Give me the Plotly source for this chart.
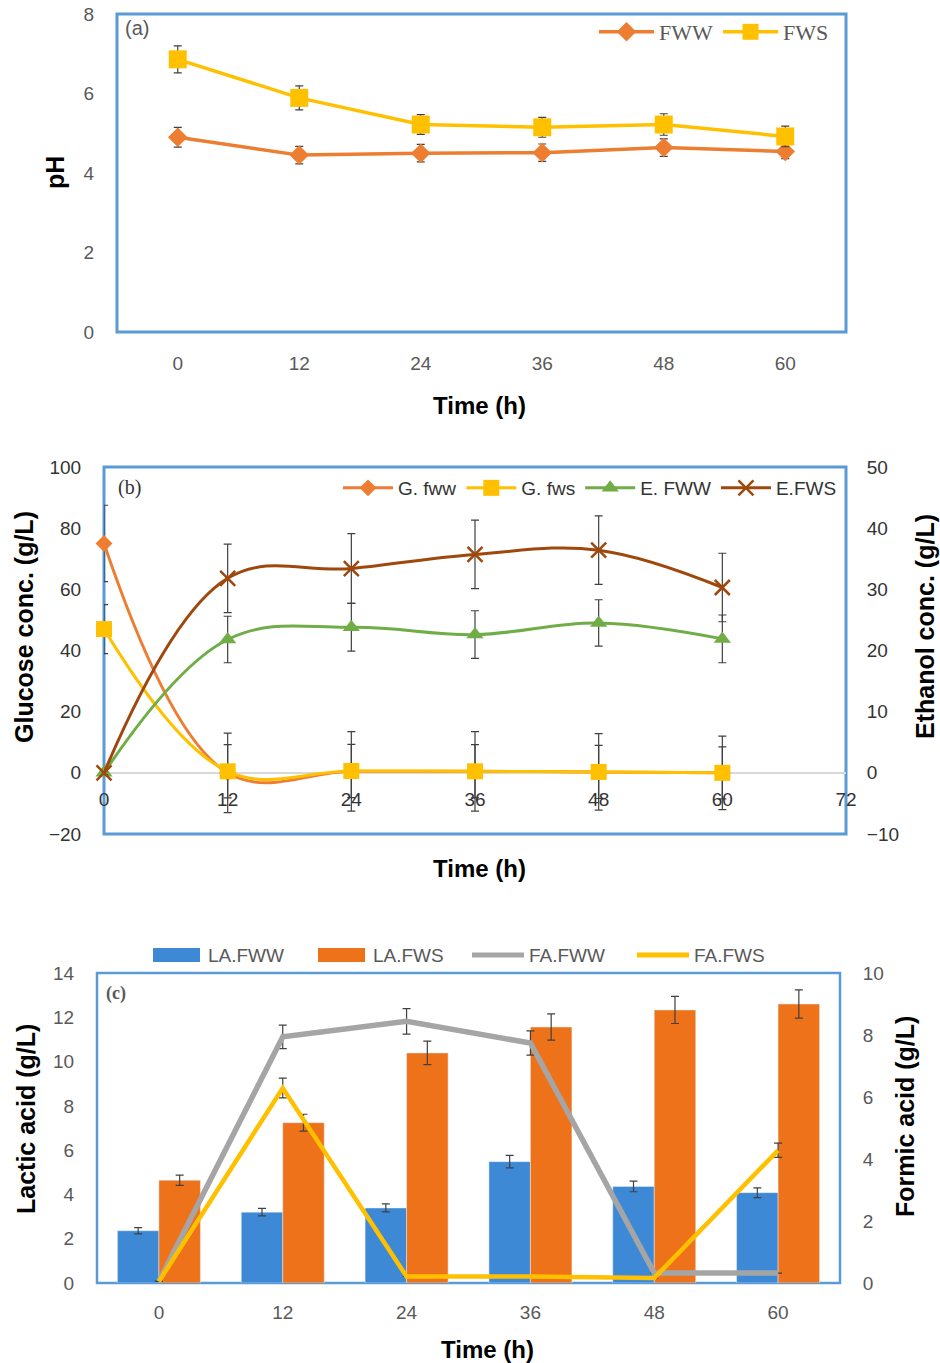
import plotly.graph_objects as go

# ---------------- data ----------------
time_cat = ["0", "12", "24", "36", "48", "60"]
time_h = [0, 12, 24, 36, 48, 60]

# panel (a) pH
ph_fww = [4.90, 4.45, 4.50, 4.51, 4.64, 4.54]
ph_fww_err = [0.25, 0.22, 0.22, 0.22, 0.22, 0.18]
ph_fws = [6.86, 5.89, 5.22, 5.15, 5.22, 4.92]
ph_fws_err = [0.34, 0.30, 0.25, 0.25, 0.27, 0.26]

# panel (b) glucose (left) and ethanol (right)
g_fww = [75.0, 0.0, 0.5, 0.5, 0.3, 0.0]
g_fww_err = [12.5, 13.0, 13.0, 13.0, 12.5, 12.0]
g_fws = [47.0, 0.5, 0.6, 0.5, 0.3, 0.0]
g_fws_err = [8.0, 8.7, 8.7, 8.7, 8.7, 8.5]
e_fww = [0.0, 21.8, 23.8, 22.6, 24.5, 21.9]
e_fww_err = [0.3, 3.8, 3.9, 3.9, 3.8, 3.9]
e_fws = [0.0, 31.8, 33.4, 35.7, 36.4, 30.3]
e_fws_err = [0.3, 5.6, 5.7, 5.6, 5.6, 5.6]

# panel (c) lactic acid (bars, left) and formic acid (lines, right)
la_fww = [2.36, 3.20, 3.39, 5.48, 4.36, 4.08]
la_fww_err = [0.14, 0.17, 0.18, 0.28, 0.24, 0.22]
la_fws = [4.64, 7.24, 10.39, 11.56, 12.33, 12.60]
la_fws_err = [0.23, 0.38, 0.53, 0.59, 0.61, 0.64]
fa_fww = [0.05, 7.94, 8.44, 7.74, 0.32, 0.32]
fa_fww_err = [0.0, 0.38, 0.41, 0.39, 0.0, 0.0]
fa_fws = [0.05, 6.29, 0.21, 0.21, 0.16, 4.28]
fa_fws_err = [0.0, 0.32, 0.0, 0.0, 0.0, 0.23]

# ---------------- style ----------------
W, H = 940, 1363
ORANGE = "#ED7D31"
YELLOW = "#FFC000"
GREEN = "#70AD47"
BROWN = "#9E480E"
GRAY = "#A5A5A5"
BLUE_BAR = "#3D89D6"
ORANGE_BAR = "#EE7219"
FRAME = "#5B9BD5"
TICKC = "#595959"
NARROW = "Liberation Sans Narrow, Arial Narrow, Liberation Sans, Arial"
BOLD = "Liberation Sans, Arial"
SMOOTH = 1.1


def px_x(p):
    return p / W


def px_y(p):
    return 1 - p / H


def eb(arr, color="#404040"):
    return dict(type="data", array=arr, visible=True, color=color, thickness=1.2, width=4)


fig = go.Figure()

# ---- panel (a)
fig.add_trace(go.Scatter(x=time_cat, y=ph_fww, name="FWW", mode="lines+markers",
                         line=dict(color=ORANGE, width=3.5),
                         marker=dict(symbol="diamond", size=15, color=ORANGE),
                         error_y=eb(ph_fww_err), xaxis="x", yaxis="y", legend="legend"))
fig.add_trace(go.Scatter(x=time_cat, y=ph_fws, name="FWS", mode="lines+markers",
                         line=dict(color=YELLOW, width=3.5),
                         marker=dict(symbol="square", size=18, color=YELLOW),
                         error_y=eb(ph_fws_err), xaxis="x", yaxis="y", legend="legend"))

# ---- panel (b)
fig.add_trace(go.Scatter(x=time_h, y=g_fww, name="G. fww", mode="lines+markers",
                         line=dict(color=ORANGE, width=3, shape="spline", smoothing=SMOOTH),
                         marker=dict(symbol="diamond", size=13, color=ORANGE),
                         error_y=eb(g_fww_err), cliponaxis=False,
                         xaxis="x2", yaxis="y2", legend="legend2"))
fig.add_trace(go.Scatter(x=time_h, y=g_fws, name="G. fws", mode="lines+markers",
                         line=dict(color=YELLOW, width=3, shape="spline", smoothing=SMOOTH),
                         marker=dict(symbol="square", size=16, color=YELLOW),
                         error_y=eb(g_fws_err), cliponaxis=False,
                         xaxis="x2", yaxis="y2", legend="legend2"))
fig.add_trace(go.Scatter(x=time_h, y=e_fww, name="E. FWW", mode="lines+markers",
                         line=dict(color=GREEN, width=3, shape="spline", smoothing=SMOOTH),
                         marker=dict(symbol="triangle-up", size=15, color=GREEN),
                         error_y=eb(e_fww_err), cliponaxis=False,
                         xaxis="x2", yaxis="y3", legend="legend2"))
fig.add_trace(go.Scatter(x=time_h, y=e_fws, name="E.FWS", mode="lines+markers",
                         line=dict(color=BROWN, width=3, shape="spline", smoothing=SMOOTH),
                         marker=dict(symbol="x-thin-open", size=15, color=BROWN,
                                     line=dict(color=BROWN, width=2.5)),
                         error_y=eb(e_fws_err), cliponaxis=False,
                         xaxis="x2", yaxis="y3", legend="legend2"))

# ---- panel (c)
fig.add_trace(go.Bar(x=time_cat, y=la_fww, name="LA.FWW", marker=dict(color=BLUE_BAR),
                     error_y=eb(la_fww_err), xaxis="x3", yaxis="y4", showlegend=False,
                     offsetgroup="a"))
fig.add_trace(go.Bar(x=time_cat, y=la_fws, name="LA.FWS", marker=dict(color=ORANGE_BAR),
                     error_y=eb(la_fws_err), xaxis="x3", yaxis="y4", showlegend=False,
                     offsetgroup="b"))
fig.add_trace(go.Scatter(x=time_cat, y=fa_fww, name="FA.FWW", mode="lines",
                         line=dict(color=GRAY, width=5.5), showlegend=False,
                         error_y=eb(fa_fww_err), xaxis="x3", yaxis="y5"))
fig.add_trace(go.Scatter(x=time_cat, y=fa_fws, name="FA.FWS", mode="lines",
                         line=dict(color=YELLOW, width=4.5), showlegend=False,
                         error_y=eb(fa_fws_err), xaxis="x3", yaxis="y5"))

tickfont = dict(family=NARROW, size=19, color=TICKC)
hidden_ticks = dict(ticks="outside", tickcolor="rgba(0,0,0,0)", showgrid=False,
                    zeroline=False, showline=False, automargin=False)

dom_a_x = [px_x(117), px_x(846)]
dom_a_y = [px_y(332), px_y(14)]
dom_b_x = [px_x(104), px_x(846)]
dom_b_y = [px_y(834), px_y(467)]
dom_c_x = [px_x(97), px_x(840)]
dom_c_y = [px_y(1283), px_y(973)]

fig.update_layout(
    width=W, height=H, margin=dict(l=0, r=0, t=0, b=0, pad=0), autosize=False,
    paper_bgcolor="white", plot_bgcolor="rgba(0,0,0,0)",
    barmode="group", bargap=0.33, bargroupgap=0.0,
    xaxis=dict(domain=dom_a_x, anchor="y", type="category", range=[-0.5, 5.5],
               tickfont=tickfont, ticklen=14, **hidden_ticks),
    yaxis=dict(domain=dom_a_y, anchor="x", range=[0, 8], dtick=2,
               tickfont=tickfont, ticklen=18, **hidden_ticks),
    xaxis2=dict(domain=dom_b_x, anchor="free", position=px_y(772), range=[0, 72],
                tickvals=[0, 12, 24, 36, 48, 60, 72], tickfont=dict(family=NARROW, size=19, color="#333333"),
                ticklen=10, **hidden_ticks),
    yaxis2=dict(domain=dom_b_y, anchor="x2", range=[-20, 100], dtick=20,
                tickfont=dict(family=NARROW, size=19, color="#333333"), ticklen=18,
                ticks="outside", tickcolor="rgba(0,0,0,0)", showgrid=False, showline=False,
                automargin=False,
                zeroline=True, zerolinecolor="#D9D9D9", zerolinewidth=2),
    yaxis3=dict(overlaying="y2", side="right", anchor="x2", range=[-10, 50], dtick=10,
                tickfont=dict(family=NARROW, size=19, color="#333333"), ticklen=16,
                **hidden_ticks),
    xaxis3=dict(domain=dom_c_x, anchor="y4", type="category", range=[-0.5, 5.5],
                tickfont=tickfont, ticklen=12, **hidden_ticks),
    yaxis4=dict(domain=dom_c_y, anchor="x3", range=[0, 14], dtick=2,
                tickfont=tickfont, ticklen=18, **hidden_ticks),
    yaxis5=dict(overlaying="y4", side="right", anchor="x3", range=[0, 10], dtick=2,
                tickfont=tickfont, ticklen=18, **hidden_ticks),
    legend=dict(orientation="h", x=px_x(834), xanchor="right", y=px_y(32), yanchor="middle",
                font=dict(family="Liberation Serif, Times New Roman, serif", size=22, color=TICKC),
                itemwidth=55, bgcolor="rgba(0,0,0,0)", tracegroupgap=0),
    legend2=dict(orientation="h", x=px_x(842), xanchor="right", y=px_y(488), yanchor="middle",
                 font=dict(family=NARROW, size=19, color="#333333"),
                 itemwidth=50, bgcolor="rgba(0,0,0,0)"),
)

# frames
shapes = []
for (dx, dy, w) in [(dom_a_x, dom_a_y, 3), (dom_b_x, dom_b_y, 3), (dom_c_x, dom_c_y, 2.5)]:
    shapes.append(dict(type="rect", xref="paper", yref="paper", x0=dx[0], x1=dx[1],
                       y0=dy[0], y1=dy[1], line=dict(color=FRAME, width=w), layer="below"))

# legend for panel (c), drawn above the plot area
leg_c_items = [("LA.FWW", BLUE_BAR, "bar", 153), ("LA.FWS", ORANGE_BAR, "bar", 318),
               ("FA.FWW", GRAY, "line", 472), ("FA.FWS", YELLOW, "line", 637)]
ann = []
for name, col, kind, x0 in leg_c_items:
    if kind == "bar":
        shapes.append(dict(type="rect", xref="paper", yref="paper",
                           x0=px_x(x0), x1=px_x(x0 + 47), y0=px_y(962), y1=px_y(948),
                           fillcolor=col, line=dict(width=0)))
    else:
        shapes.append(dict(type="line", xref="paper", yref="paper",
                           x0=px_x(x0), x1=px_x(x0 + 52), y0=px_y(955), y1=px_y(955),
                           line=dict(color=col, width=5)))
    ann.append(dict(text=name, x=px_x(x0 + (53 if kind == "bar" else 55)), y=px_y(955),
                    xanchor="left", font=dict(family=NARROW, size=19, color=TICKC)))
fig.update_layout(shapes=shapes)

title_font = dict(family=BOLD, size=24, color="black")
ytitle_font = dict(family=BOLD, size=25, color="black")
ann.append(dict(text="<b>Time (h)</b>", x=px_x(480), y=px_y(405), font=title_font))
ann.append(dict(text="<b>Time (h)</b>", x=px_x(480), y=px_y(868), font=title_font))
ann.append(dict(text="<b>Time (h)</b>", x=px_x(487), y=px_y(1349), font=title_font))
ann.append(dict(text="<b>pH</b>", x=px_x(55), y=px_y(173), textangle=-90, font=ytitle_font))
ann.append(dict(text="<b>Glucose conc. (g/L)</b>", x=px_x(24), y=px_y(627), textangle=-90, font=ytitle_font))
ann.append(dict(text="<b>Ethanol conc. (g/L)</b>", x=px_x(925), y=px_y(627), textangle=-90, font=ytitle_font))
ann.append(dict(text="<b>Lactic acid (g/L)</b>", x=px_x(26), y=px_y(1119), textangle=-90, font=ytitle_font))
ann.append(dict(text="<b>Formic acid (g/L)</b>", x=px_x(905), y=px_y(1117), textangle=-90, font=ytitle_font))
ann.append(dict(text="(a)", x=px_x(137), y=px_y(28), font=dict(family=NARROW, size=20, color=TICKC)))
ann.append(dict(text="(b)", x=px_x(129), y=px_y(488), font=dict(family="Liberation Serif, serif", size=20, color="#333333")))
ann.append(dict(text="<b>(c)</b>", x=px_x(116), y=px_y(993), font=dict(family="Liberation Serif, serif", size=18, color="#595959")))
for a in ann:
    a.setdefault("xanchor", "center")
    a.update(xref="paper", yref="paper", showarrow=False, yanchor="middle")
fig.update_layout(annotations=ann)

fig.write_html("out.html", config={"displayModeBar": False},
               post_script="document.body.style.margin='0';")
